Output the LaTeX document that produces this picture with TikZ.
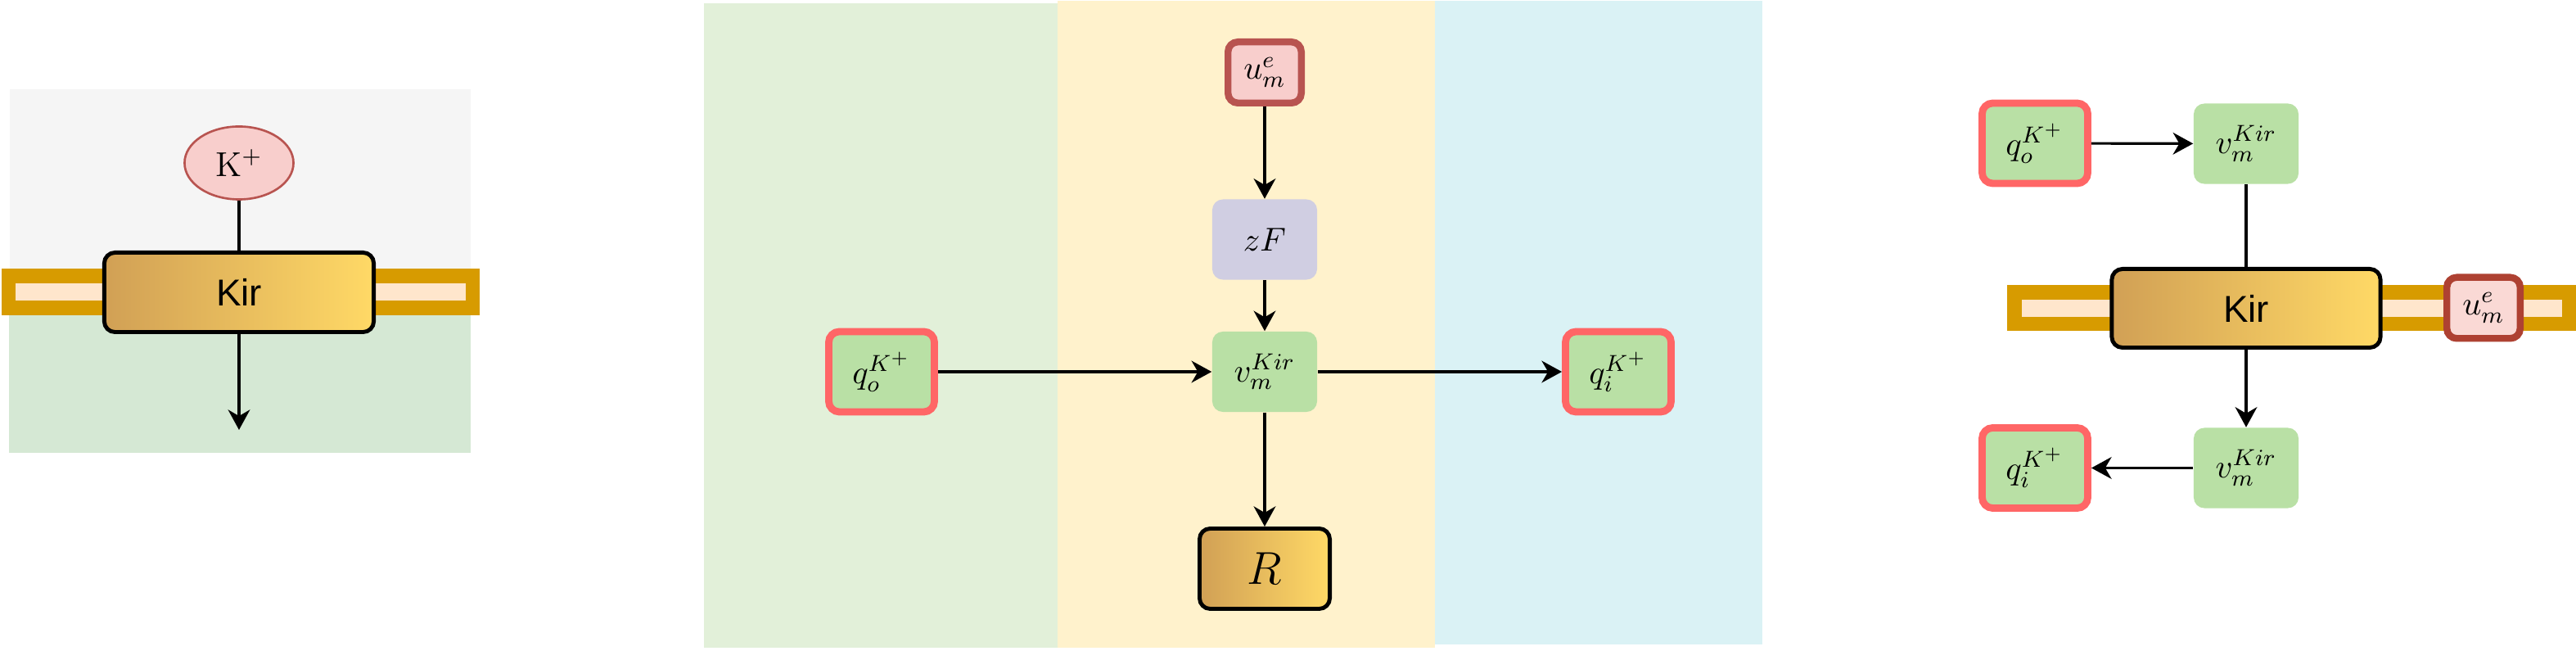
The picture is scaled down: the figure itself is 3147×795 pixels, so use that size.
\RequirePackage{fix-cm}
\documentclass[tikz,border=0pt]{standalone}
\usepackage{fontspec}
\newfontfamily\kirfont{Liberation Sans}
\usetikzlibrary{arrows.meta,shapes.geometric}
\definecolor{greybg}{HTML}{F5F5F5}
\definecolor{leftgreen}{HTML}{D5E8D4}
\definecolor{memgold}{HTML}{D79B00}
\definecolor{memlight}{HTML}{FFE6CC}
\definecolor{midgreen}{HTML}{E2F0D9}
\definecolor{midyellow}{HTML}{FFF2CC}
\definecolor{midcyan}{HTML}{DAF2F5}
\definecolor{boxgreen}{HTML}{B9E0A5}
\definecolor{zfpurple}{HTML}{D0CEE2}
\definecolor{kpink}{HTML}{F8CECC}
\definecolor{kred}{HTML}{B85450}
\definecolor{qred}{HTML}{FF6666}
\definecolor{upink2}{HTML}{FAD9D5}
\definecolor{ured2}{HTML}{AE4132}
\definecolor{kirL}{HTML}{D1A055}
\definecolor{kirR}{HTML}{FFD966}
\newcommand{\mathsz}{\fontsize{11.5}{13}\selectfont}
\begin{document}
\begin{tikzpicture}[x=0.01cm,y=-0.01cm,
  arr/.style={line width=0.9pt,-{Stealth[length=7pt,width=7.6pt,inset=2.2pt]}},
  conn/.style={line width=0.9pt},
  gbox/.style={rectangle,rounded corners=0.13cm,fill=boxgreen,minimum width=1.28cm,minimum height=0.98cm,inner sep=0pt,font=\mathsz},
  qbox/.style={gbox,draw=qred,line width=2.5pt,minimum width=1.29cm,minimum height=0.98cm},
  ubox/.style={rectangle,rounded corners=0.12cm,fill=kpink,draw=kred,line width=2.4pt,minimum width=0.895cm,minimum height=0.745cm,inner sep=0pt,font=\mathsz},
  kirbox/.style={rectangle,rounded corners=0.13cm,left color=kirL,right color=kirR,draw=black,line width=1.4pt,inner sep=0pt},
  kirtext/.style={font=\kirfont\fontsize{13}{15}\selectfont}
]
\useasboundingbox (0,0) rectangle (3147,795);
% ---------- left panel ----------
\fill[greybg] (12,109) rectangle (575,340);
\fill[leftgreen] (11,370) rectangle (575,553);
\fill[memgold] (2,328) rectangle (586,385);
\fill[memlight] (19,346) rectangle (569,367);
\node[ellipse,draw=kred,fill=kpink,line width=0.75pt,minimum width=1.33cm,minimum height=0.89cm,inner sep=0pt] (kion) at (292,199) {\fontsize{12}{14}\selectfont$\mathrm{K}^{+}$};
\node[kirbox,kirtext,minimum width=3.29cm,minimum height=0.97cm] (kirA) at (292,357) {Kir};
\coordinate (leftend) at (292,525);
\draw[conn] (kion) -- (kirA);
\draw[arr] (kirA) -- (leftend);
% ---------- middle panel ----------
\fill[midgreen] (860,4) rectangle (1292,791);
\fill[midyellow] (1292,1) rectangle (1753,791);
\fill[midcyan] (1753,1) rectangle (2153,787);
\node[ubox] (um) at (1545,88.5) {$u_m^e$};
\node[gbox,fill=zfpurple] (zf) at (1545,292.5) {$zF$};
\node[gbox] (vm) at (1545,454) {$v_m^{Kir}$};
\node[qbox] (qo) at (1077,454) {$q_o^{K^+}$};
\node[qbox] (qi) at (1977,454) {$q_i^{K^+}$};
\node[kirbox,minimum width=1.59cm,minimum height=0.98cm] (R) at (1545,694.5) {\fontsize{16}{18}\selectfont$R$};
\draw[arr] (um) -- (zf);
\draw[arr] (zf) -- (vm);
\draw[arr] (qo) -- (vm);
\draw[arr] (vm) -- (qi);
\draw[arr] (vm) -- (R);
% ---------- right panel ----------
\fill[memgold] (2452,348) rectangle (3147,404);
\fill[memlight] (2470,366) rectangle (3130,387);
\node[qbox] (qo2) at (2486,175) {$q_o^{K^+}$};
\node[gbox] (vt) at (2744,175.5) {$v_m^{Kir}$};
\node[kirbox,kirtext,minimum width=3.28cm,minimum height=0.96cm] (kirB) at (2744,376.5) {Kir};
\node[ubox,fill=upink2,draw=ured2] (um2) at (3034,376) {$u_m^e$};
\node[gbox] (vb) at (2744,571.5) {$v_m^{Kir}$};
\node[qbox] (qi2) at (2486,571.5) {$q_i^{K^+}$};
\draw[arr] (qo2) -- (vt);
\draw[conn] (vt) -- (kirB);
\draw[arr] (kirB) -- (vb);
\draw[arr] (vb) -- (qi2);
\end{tikzpicture}
\end{document}
